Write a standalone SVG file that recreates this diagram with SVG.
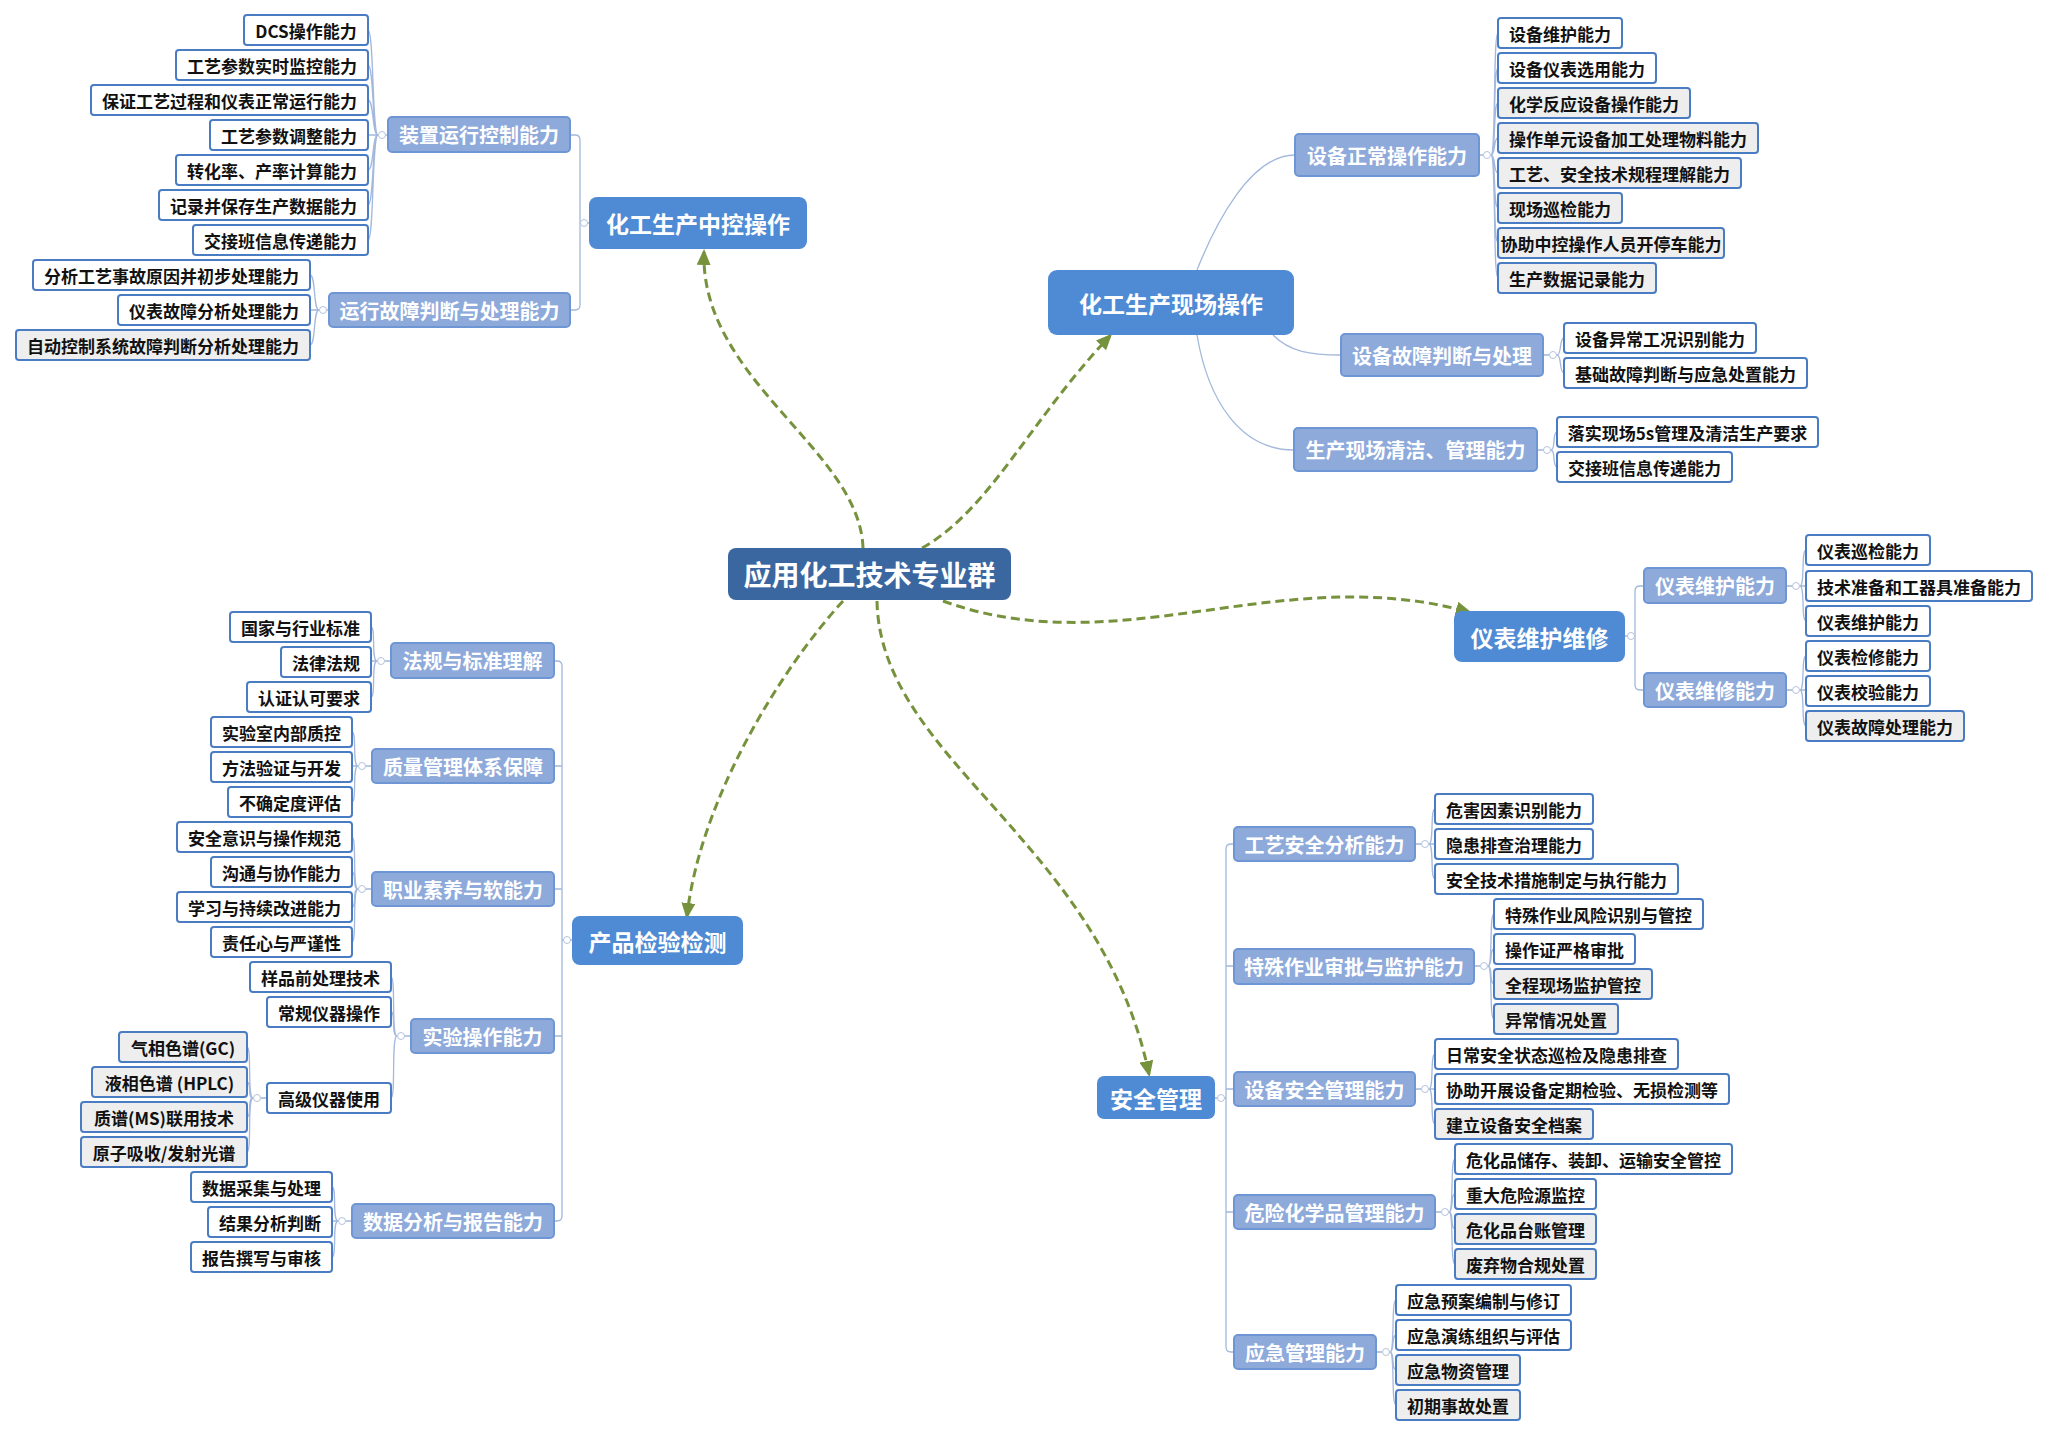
<svg xmlns="http://www.w3.org/2000/svg" width="2048" height="1435" viewBox="0 0 2048 1435">
<style>
text{font-family:"Noto Sans CJK SC","Microsoft YaHei",sans-serif;font-weight:bold;text-anchor:middle;dominant-baseline:central}
.leaf rect{fill:#fff;stroke:#4a7cc4;stroke-width:2}
.leaf.g rect{fill:#eeeeee}
.leaf text{font-size:17px;fill:#111}
.sub rect{fill:#8eaadb;stroke:#6f96d4;stroke-width:2}
.sub text{font-size:20px;fill:#fff}
.main rect{fill:#4f8bd4}
.main text{font-size:23px;fill:#fff}
.root rect{fill:#3a679f}
.root text{font-size:28px;fill:#fff}
.ln{fill:none;stroke:#a3b8dc;stroke-width:1.3}
.dot{fill:#fff;stroke:#b5c3dd;stroke-width:1}
.arr{fill:none;stroke:#76923c;stroke-width:3;stroke-dasharray:9 5;marker-end:url(#ah)}
</style>
<defs>
<marker id="ah" markerUnits="userSpaceOnUse" markerWidth="16" markerHeight="14" refX="13" refY="7" orient="auto"><path d="M0,0 L16,7 L0,14 z" fill="#76923c"/></marker>
</defs>
<rect width="2048" height="1435" fill="#fff"/>

<g id="connectors">
<!-- 中控 -->
<path class="ln" d="M570,135 H575 Q580,135 580,140 V305 Q580,310 575,310 H570 M580,223 H589"/>
<path class="ln" d="M388,135 H386 M378,135 C372,135 374,30 368,30 M378,135 C372,135 374,65 368,65 M378,135 C372,135 374,100 368,100 M378,135 H368 M378,135 C372,135 374,170 368,170 M378,135 C372,135 374,205 368,205 M378,135 C372,135 374,240 368,240"/>
<path class="ln" d="M329,310 H327 M319,310 C313,310 316,275 310,275 M319,310 H310 M319,310 C313,310 316,345 310,345"/>
<!-- 现场 -->
<path class="ln" d="M1197,270 C1215,225 1250,155 1295,155 M1273,335 C1290,352 1310,355 1341,355 M1197,335 C1208,400 1240,450 1294,450"/>
<path class="ln" d="M1479,155 H1483 M1491,155 C1496,155 1493,33 1498,33 M1491,155 C1496,155 1493,68 1498,68 M1491,155 C1496,155 1493,103 1498,103 M1491,155 C1496,155 1493,138 1498,138 M1491,155 C1496,155 1493,173 1498,173 M1491,155 C1496,155 1493,208 1498,208 M1491,155 C1496,155 1493,243 1498,243 M1491,155 C1496,155 1493,278 1498,278"/>
<path class="ln" d="M1543,355 H1549 M1557,355 C1562,355 1559,338 1564,338 M1557,355 C1562,355 1559,373 1564,373"/>
<path class="ln" d="M1537,450 H1543 M1551,450 C1556,450 1552,432 1557,432 M1551,450 C1556,450 1552,467 1557,467"/>
<!-- 仪表 -->
<path class="ln" d="M1625,636 H1635 M1644,586 H1640 Q1635,586 1635,591 V685 Q1635,690 1640,690 H1644"/>
<path class="ln" d="M1786,586 H1792 M1800,586 C1805,586 1801,550 1806,550 M1800,586 H1806 M1800,586 C1805,586 1801,621 1806,621"/>
<path class="ln" d="M1786,690 H1792 M1800,690 C1805,690 1801,656 1806,656 M1800,690 H1806 M1800,690 C1805,690 1801,726 1806,726"/>
<!-- 产品 -->
<path class="ln" d="M554,661 H557 Q562,661 562,666 V1216 Q562,1221 557,1221 H554 M554,766 H562 M554,889 H562 M554,1036 H562 M562,940 H572"/>
<path class="ln" d="M391,661 H385 M377,661 C371,661 376,627 371,627 M377,661 H371 M377,661 C371,661 376,697 371,697"/>
<path class="ln" d="M372,766 H366 M358,766 C352,766 357,732 352,732 M358,766 H352 M358,766 C352,766 357,802 352,802"/>
<path class="ln" d="M372,889 H366 M358,889 C352,889 357,837 352,837 M358,889 C352,889 357,872 352,872 M358,889 C352,889 357,907 352,907 M358,889 C352,889 357,942 352,942"/>
<path class="ln" d="M411,1036 H405 M397,1036 C391,1036 396,977 391,977 M397,1036 C391,1036 396,1012 391,1012 M397,1036 C391,1036 396,1098 391,1098"/>
<path class="ln" d="M267,1098 H261 M253,1098 C247,1098 252,1047 247,1047 M253,1098 C247,1098 252,1082 247,1082 M253,1098 C247,1098 252,1117 247,1117 M253,1098 C247,1098 252,1152 247,1152"/>
<path class="ln" d="M352,1221 H346 M338,1221 C332,1221 337,1187 332,1187 M338,1221 H332 M338,1221 C332,1221 337,1257 332,1257"/>
<!-- 安全 -->
<path class="ln" d="M1215,1098 H1226 M1234,844 H1231 Q1226,844 1226,849 V1347 Q1226,1352 1231,1352 H1234 M1226,966 H1234 M1226,1089 H1234 M1226,1212 H1234"/>
<path class="ln" d="M1415,844 H1421 M1429,844 C1434,844 1430,809 1435,809 M1429,844 H1435 M1429,844 C1434,844 1430,879 1435,879"/>
<path class="ln" d="M1474,966 H1480 M1488,966 C1493,966 1489,914 1494,914 M1488,966 C1493,966 1489,949 1494,949 M1488,966 C1493,966 1489,984 1494,984 M1488,966 C1493,966 1489,1019 1494,1019"/>
<path class="ln" d="M1415,1089 H1421 M1429,1089 C1434,1089 1430,1054 1435,1054 M1429,1089 H1435 M1429,1089 C1434,1089 1430,1124 1435,1124"/>
<path class="ln" d="M1435,1212 H1441 M1449,1212 C1454,1212 1450,1159 1455,1159 M1449,1212 C1454,1212 1450,1194 1455,1194 M1449,1212 C1454,1212 1450,1229 1455,1229 M1449,1212 C1454,1212 1450,1264 1455,1264"/>
<path class="ln" d="M1376,1352 H1382 M1390,1352 C1395,1352 1391,1300 1396,1300 M1390,1352 C1395,1352 1391,1335 1396,1335 M1390,1352 C1395,1352 1391,1370 1396,1370 M1390,1352 C1395,1352 1391,1405 1396,1405"/>
<!-- collapse dots -->
<g class="dot">
<circle cx="382" cy="135" r="3.5"/><circle cx="323" cy="310" r="3.5"/><circle cx="584" cy="223" r="3.5"/>
<circle cx="1487" cy="155" r="3.5"/><circle cx="1553" cy="355" r="3.5"/><circle cx="1547" cy="450" r="3.5"/>
<circle cx="1631" cy="636" r="3.5"/><circle cx="1796" cy="586" r="3.5"/><circle cx="1796" cy="690" r="3.5"/>
<circle cx="567" cy="940" r="3.5"/><circle cx="381" cy="661" r="3.5"/><circle cx="362" cy="766" r="3.5"/><circle cx="362" cy="889" r="3.5"/><circle cx="401" cy="1036" r="3.5"/><circle cx="257" cy="1098" r="3.5"/><circle cx="342" cy="1221" r="3.5"/>
<circle cx="1221" cy="1098" r="3.5"/><circle cx="1425" cy="844" r="3.5"/><circle cx="1484" cy="966" r="3.5"/><circle cx="1425" cy="1089" r="3.5"/><circle cx="1445" cy="1212" r="3.5"/><circle cx="1386" cy="1352" r="3.5"/>
</g>
<!-- dashed arrows -->
<path class="arr" d="M863,548 C860,450 700,380 704,252"/>
<path class="arr" d="M922,548 C990,510 1030,420 1110,336"/>
<path class="arr" d="M943,601 C1120,665 1280,560 1469,612"/>
<path class="arr" d="M843,601 C780,670 700,800 687,916"/>
<path class="arr" d="M877,601 C880,760 1100,840 1149,1074"/>
</g>

<g id="root" class="root"><rect x="728" y="548" width="283" height="52" rx="8"/><text x="869.5" y="574">应用化工技术专业群</text></g>

<!-- 化工生产中控操作 -->
<g id="n-zk" class="main"><rect x="589" y="197" width="218" height="52" rx="8"/><text x="698" y="223">化工生产中控操作</text></g>
<g id="n-zk1" class="sub"><rect x="388" y="117" width="182" height="35" rx="4"/><text x="479" y="134.5">装置运行控制能力</text></g>
<g id="n-zk2" class="sub"><rect x="329" y="293" width="241" height="34" rx="4"/><text x="449.5" y="310">运行故障判断与处理能力</text></g>
<g id="l-zk1a" class="leaf"><rect x="244" y="15" width="124" height="30" rx="3"/><text x="306" y="30">DCS操作能力</text></g>
<g id="l-zk1b" class="leaf"><rect x="176" y="50" width="192" height="30" rx="3"/><text x="272" y="65">工艺参数实时监控能力</text></g>
<g id="l-zk1c" class="leaf"><rect x="91" y="85" width="277" height="30" rx="3"/><text x="229.5" y="100">保证工艺过程和仪表正常运行能力</text></g>
<g id="l-zk1d" class="leaf"><rect x="210" y="120" width="158" height="30" rx="3"/><text x="289" y="135">工艺参数调整能力</text></g>
<g id="l-zk1e" class="leaf"><rect x="176" y="155" width="192" height="30" rx="3"/><text x="272" y="170">转化率、产率计算能力</text></g>
<g id="l-zk1f" class="leaf"><rect x="159" y="190" width="209" height="30" rx="3"/><text x="263.5" y="205">记录并保存生产数据能力</text></g>
<g id="l-zk1g" class="leaf"><rect x="193" y="225" width="175" height="30" rx="3"/><text x="280.5" y="240">交接班信息传递能力</text></g>
<g id="l-zk2a" class="leaf"><rect x="33" y="260" width="277" height="30" rx="3"/><text x="171.5" y="275">分析工艺事故原因并初步处理能力</text></g>
<g id="l-zk2b" class="leaf"><rect x="118" y="295" width="192" height="30" rx="3"/><text x="214" y="310">仪表故障分析处理能力</text></g>
<g id="l-zk2c" class="leaf g"><rect x="16" y="330" width="294" height="30" rx="3"/><text x="163" y="345">自动控制系统故障判断分析处理能力</text></g>

<!-- 化工生产现场操作 -->
<g id="n-xc" class="main"><rect x="1048" y="270" width="246" height="65" rx="9"/><text x="1171" y="302.5">化工生产现场操作</text></g>
<g id="n-xc1" class="sub"><rect x="1295" y="134" width="184" height="42" rx="4"/><text x="1387" y="155">设备正常操作能力</text></g>
<g id="n-xc2" class="sub"><rect x="1341" y="334" width="202" height="42" rx="4"/><text x="1442" y="355">设备故障判断与处理</text></g>
<g id="n-xc3" class="sub"><rect x="1294" y="428" width="243" height="43" rx="4"/><text x="1415.5" y="449.5">生产现场清洁、管理能力</text></g>
<g id="l-xc1a" class="leaf"><rect x="1498" y="18" width="124" height="30" rx="3"/><text x="1560" y="33">设备维护能力</text></g>
<g id="l-xc1b" class="leaf"><rect x="1498" y="53" width="158" height="30" rx="3"/><text x="1577" y="68">设备仪表选用能力</text></g>
<g id="l-xc1c" class="leaf g"><rect x="1498" y="88" width="192" height="30" rx="3"/><text x="1594" y="103">化学反应设备操作能力</text></g>
<g id="l-xc1d" class="leaf g"><rect x="1498" y="123" width="260" height="30" rx="3"/><text x="1628" y="138">操作单元设备加工处理物料能力</text></g>
<g id="l-xc1e" class="leaf g"><rect x="1498" y="158" width="243" height="30" rx="3"/><text x="1619.5" y="173">工艺、安全技术规程理解能力</text></g>
<g id="l-xc1f" class="leaf g"><rect x="1498" y="193" width="124" height="30" rx="3"/><text x="1560" y="208">现场巡检能力</text></g>
<g id="l-xc1g" class="leaf g"><rect x="1498" y="228" width="226" height="30" rx="3"/><text x="1611" y="243">协助中控操作人员开停车能力</text></g>
<g id="l-xc1h" class="leaf g"><rect x="1498" y="263" width="158" height="30" rx="3"/><text x="1577" y="278">生产数据记录能力</text></g>
<g id="l-xc2a" class="leaf"><rect x="1564" y="323" width="192" height="30" rx="3"/><text x="1660" y="338">设备异常工况识别能力</text></g>
<g id="l-xc2b" class="leaf"><rect x="1564" y="358" width="243" height="30" rx="3"/><text x="1685.5" y="373">基础故障判断与应急处置能力</text></g>
<g id="l-xc3a" class="leaf"><rect x="1557" y="417" width="261" height="30" rx="3"/><text x="1687.5" y="432">落实现场5s管理及清洁生产要求</text></g>
<g id="l-xc3b" class="leaf"><rect x="1557" y="452" width="175" height="30" rx="3"/><text x="1644.5" y="467">交接班信息传递能力</text></g>

<!-- 仪表维护维修 -->
<g id="n-yb" class="main"><rect x="1454" y="611" width="171" height="51" rx="8"/><text x="1539.5" y="636.5">仪表维护维修</text></g>
<g id="n-yb1" class="sub"><rect x="1644" y="568" width="142" height="35" rx="4"/><text x="1715" y="585.5">仪表维护能力</text></g>
<g id="n-yb2" class="sub"><rect x="1644" y="673" width="142" height="34" rx="4"/><text x="1715" y="690">仪表维修能力</text></g>
<g id="l-yb1a" class="leaf"><rect x="1806" y="535" width="124" height="30" rx="3"/><text x="1868" y="550">仪表巡检能力</text></g>
<g id="l-yb1b" class="leaf"><rect x="1806" y="571" width="226" height="30" rx="3"/><text x="1919" y="586">技术准备和工器具准备能力</text></g>
<g id="l-yb1c" class="leaf"><rect x="1806" y="606" width="124" height="30" rx="3"/><text x="1868" y="621">仪表维护能力</text></g>
<g id="l-yb2a" class="leaf"><rect x="1806" y="641" width="124" height="30" rx="3"/><text x="1868" y="656">仪表检修能力</text></g>
<g id="l-yb2b" class="leaf"><rect x="1806" y="676" width="124" height="30" rx="3"/><text x="1868" y="691">仪表校验能力</text></g>
<g id="l-yb2c" class="leaf g"><rect x="1806" y="711" width="158" height="30" rx="3"/><text x="1885" y="726">仪表故障处理能力</text></g>

<!-- 产品检验检测 -->
<g id="n-cp" class="main"><rect x="572" y="916" width="171" height="49" rx="8"/><text x="657.5" y="940.5">产品检验检测</text></g>
<g id="n-cp1" class="sub"><rect x="391" y="643" width="163" height="35" rx="4"/><text x="472.5" y="660.5">法规与标准理解</text></g>
<g id="n-cp2" class="sub"><rect x="372" y="749" width="182" height="34" rx="4"/><text x="463" y="766">质量管理体系保障</text></g>
<g id="n-cp3" class="sub"><rect x="372" y="872" width="182" height="34" rx="4"/><text x="463" y="889">职业素养与软能力</text></g>
<g id="n-cp4" class="sub"><rect x="411" y="1019" width="143" height="34" rx="4"/><text x="482.5" y="1036">实验操作能力</text></g>
<g id="n-cp5" class="sub"><rect x="352" y="1204" width="202" height="34" rx="4"/><text x="453" y="1221">数据分析与报告能力</text></g>
<g id="l-cp1a" class="leaf"><rect x="230" y="612" width="141" height="30" rx="3"/><text x="300.5" y="627">国家与行业标准</text></g>
<g id="l-cp1b" class="leaf"><rect x="281" y="647" width="90" height="30" rx="3"/><text x="326" y="662">法律法规</text></g>
<g id="l-cp1c" class="leaf"><rect x="247" y="682" width="124" height="30" rx="3"/><text x="309" y="697">认证认可要求</text></g>
<g id="l-cp2a" class="leaf"><rect x="211" y="717" width="141" height="30" rx="3"/><text x="281.5" y="732">实验室内部质控</text></g>
<g id="l-cp2b" class="leaf"><rect x="211" y="752" width="141" height="30" rx="3"/><text x="281.5" y="767">方法验证与开发</text></g>
<g id="l-cp2c" class="leaf"><rect x="228" y="787" width="124" height="30" rx="3"/><text x="290" y="802">不确定度评估</text></g>
<g id="l-cp3a" class="leaf"><rect x="177" y="822" width="175" height="30" rx="3"/><text x="264.5" y="837">安全意识与操作规范</text></g>
<g id="l-cp3b" class="leaf"><rect x="211" y="857" width="141" height="30" rx="3"/><text x="281.5" y="872">沟通与协作能力</text></g>
<g id="l-cp3c" class="leaf"><rect x="177" y="892" width="175" height="30" rx="3"/><text x="264.5" y="907">学习与持续改进能力</text></g>
<g id="l-cp3d" class="leaf"><rect x="211" y="927" width="141" height="30" rx="3"/><text x="281.5" y="942">责任心与严谨性</text></g>
<g id="l-cp4a" class="leaf"><rect x="250" y="962" width="141" height="30" rx="3"/><text x="320.5" y="977">样品前处理技术</text></g>
<g id="l-cp4b" class="leaf"><rect x="267" y="997" width="124" height="30" rx="3"/><text x="329" y="1012">常规仪器操作</text></g>
<g id="l-cp4c" class="leaf"><rect x="267" y="1083" width="124" height="30" rx="3"/><text x="329" y="1098">高级仪器使用</text></g>
<g id="l-cp4c1" class="leaf g"><rect x="119" y="1032" width="128" height="30" rx="3"/><text x="183" y="1047">气相色谱(GC)</text></g>
<g id="l-cp4c2" class="leaf g"><rect x="92" y="1067" width="155" height="30" rx="3"/><text x="169.5" y="1082">液相色谱 (HPLC)</text></g>
<g id="l-cp4c3" class="leaf g"><rect x="81" y="1102" width="166" height="30" rx="3"/><text x="164" y="1117">质谱(MS)联用技术</text></g>
<g id="l-cp4c4" class="leaf g"><rect x="81" y="1137" width="166" height="30" rx="3"/><text x="164" y="1152">原子吸收/发射光谱</text></g>
<g id="l-cp5a" class="leaf"><rect x="191" y="1172" width="141" height="30" rx="3"/><text x="261.5" y="1187">数据采集与处理</text></g>
<g id="l-cp5b" class="leaf"><rect x="208" y="1207" width="124" height="30" rx="3"/><text x="270" y="1222">结果分析判断</text></g>
<g id="l-cp5c" class="leaf"><rect x="191" y="1242" width="141" height="30" rx="3"/><text x="261.5" y="1257">报告撰写与审核</text></g>

<!-- 安全管理 -->
<g id="n-aq" class="main"><rect x="1097" y="1076" width="118" height="43" rx="7"/><text x="1156" y="1097.5">安全管理</text></g>
<g id="n-aq1" class="sub"><rect x="1234" y="827" width="181" height="34" rx="4"/><text x="1324.5" y="844">工艺安全分析能力</text></g>
<g id="n-aq2" class="sub"><rect x="1234" y="949" width="240" height="35" rx="4"/><text x="1354" y="966.5">特殊作业审批与监护能力</text></g>
<g id="n-aq3" class="sub"><rect x="1234" y="1072" width="181" height="34" rx="4"/><text x="1324.5" y="1089">设备安全管理能力</text></g>
<g id="n-aq4" class="sub"><rect x="1234" y="1195" width="201" height="34" rx="4"/><text x="1334.5" y="1212">危险化学品管理能力</text></g>
<g id="n-aq5" class="sub"><rect x="1234" y="1335" width="142" height="34" rx="4"/><text x="1305" y="1352">应急管理能力</text></g>
<g id="l-aq1a" class="leaf"><rect x="1435" y="794" width="158" height="30" rx="3"/><text x="1514" y="809">危害因素识别能力</text></g>
<g id="l-aq1b" class="leaf"><rect x="1435" y="829" width="158" height="30" rx="3"/><text x="1514" y="844">隐患排查治理能力</text></g>
<g id="l-aq1c" class="leaf"><rect x="1435" y="864" width="243" height="30" rx="3"/><text x="1556.5" y="879">安全技术措施制定与执行能力</text></g>
<g id="l-aq2a" class="leaf"><rect x="1494" y="899" width="209" height="30" rx="3"/><text x="1598.5" y="914">特殊作业风险识别与管控</text></g>
<g id="l-aq2b" class="leaf"><rect x="1494" y="934" width="141" height="30" rx="3"/><text x="1564.5" y="949">操作证严格审批</text></g>
<g id="l-aq2c" class="leaf g"><rect x="1494" y="969" width="158" height="30" rx="3"/><text x="1573" y="984">全程现场监护管控</text></g>
<g id="l-aq2d" class="leaf g"><rect x="1494" y="1004" width="124" height="30" rx="3"/><text x="1556" y="1019">异常情况处置</text></g>
<g id="l-aq3a" class="leaf"><rect x="1435" y="1039" width="243" height="30" rx="3"/><text x="1556.5" y="1054">日常安全状态巡检及隐患排查</text></g>
<g id="l-aq3b" class="leaf"><rect x="1435" y="1074" width="294" height="30" rx="3"/><text x="1582" y="1089">协助开展设备定期检验、无损检测等</text></g>
<g id="l-aq3c" class="leaf g"><rect x="1435" y="1109" width="158" height="30" rx="3"/><text x="1514" y="1124">建立设备安全档案</text></g>
<g id="l-aq4a" class="leaf"><rect x="1455" y="1144" width="277" height="30" rx="3"/><text x="1593.5" y="1159">危化品储存、装卸、运输安全管控</text></g>
<g id="l-aq4b" class="leaf"><rect x="1455" y="1179" width="141" height="30" rx="3"/><text x="1525.5" y="1194">重大危险源监控</text></g>
<g id="l-aq4c" class="leaf g"><rect x="1455" y="1214" width="141" height="30" rx="3"/><text x="1525.5" y="1229">危化品台账管理</text></g>
<g id="l-aq4d" class="leaf g"><rect x="1455" y="1249" width="141" height="30" rx="3"/><text x="1525.5" y="1264">废弃物合规处置</text></g>
<g id="l-aq5a" class="leaf"><rect x="1396" y="1285" width="175" height="30" rx="3"/><text x="1483.5" y="1300">应急预案编制与修订</text></g>
<g id="l-aq5b" class="leaf"><rect x="1396" y="1320" width="175" height="30" rx="3"/><text x="1483.5" y="1335">应急演练组织与评估</text></g>
<g id="l-aq5c" class="leaf g"><rect x="1396" y="1355" width="124" height="30" rx="3"/><text x="1458" y="1370">应急物资管理</text></g>
<g id="l-aq5d" class="leaf g"><rect x="1396" y="1390" width="124" height="30" rx="3"/><text x="1458" y="1405">初期事故处置</text></g>
</svg>
